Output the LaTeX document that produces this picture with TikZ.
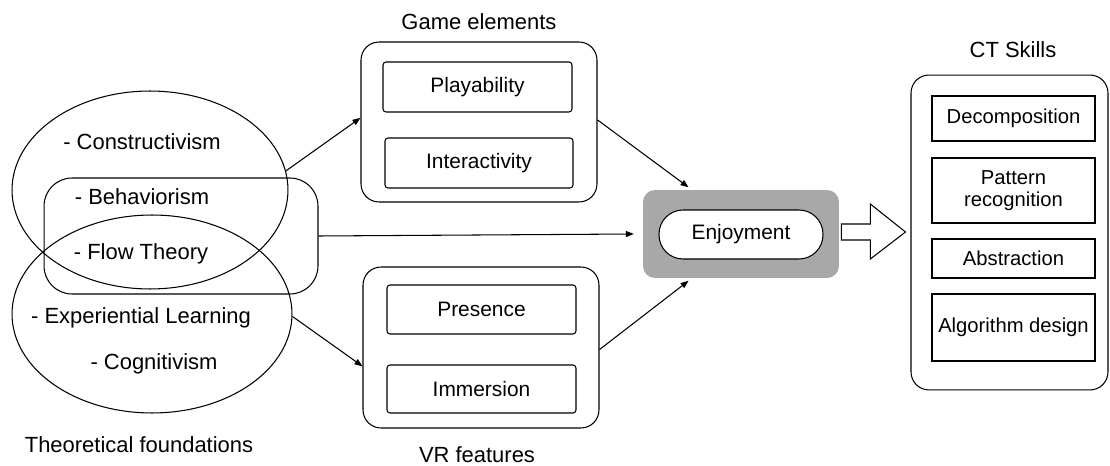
\documentclass[tikz,border=0pt]{standalone}
\usepackage{fontspec}
\setmainfont{Liberation Sans}
\usetikzlibrary{arrows.meta,shapes.geometric,calc}
\definecolor{frame}{RGB}{168,168,168}
\tikzset{
  every node/.style={font=\fontsize{11.9}{14}\selectfont, text=black},
  big/.style={font=\fontsize{12.5}{15}\selectfont},
  line/.style={line width=0.6pt, draw=black},
  group/.style={line, rectangle, rounded corners=0.36cm, inner sep=0pt},
  item/.style={line, rectangle, rounded corners=0.06cm, inner sep=0pt, align=center},
  skill/.style={line, rectangle, inner sep=0pt, align=center, minimum width=3.26cm,
                font=\fontsize{11.5}{13.5}\selectfont},
  theory/.style={line, ellipse, inner sep=0pt},
  link/.style={line, -{Triangle[length=0.16cm,width=0.12cm]}},
  caption/.style={big, inner sep=0pt}
}
\begin{document}
\begin{tikzpicture}[x=0.02cm,y=-0.02cm]
\useasboundingbox (0,0) rectangle (1110,466);

% theoretical foundations
\node[theory, minimum width=5.52cm, minimum height=3.96cm] (ellA) at (150,190) {};
\node[theory, minimum width=5.60cm, minimum height=3.96cm] (ellB) at (152,314) {};
\node[line, rectangle, rounded corners=0.56cm, minimum width=5.48cm, minimum height=2.32cm] (mid) at (181,236) {};
\node[big] (t1) at (142,142) {- Constructivism};
\node[big] (t2) at (142,197) {- Behaviorism};
\node[big] (t3) at (141,254) {- Flow Theory};
\node[big] (t4) at (141,318) {- Experiential Learning};
\node[big] (t5) at (154,364) {- Cognitivism};
\node[caption] (capT) at (139,445) {Theoretical foundations};

% game elements
\node[group, minimum width=4.72cm, minimum height=3.2cm] (game) at (479,122) {};
\node[item, minimum width=3.78cm, minimum height=1.0cm] (play) at (477.5,87) {Playability};
\node[item, minimum width=3.76cm, minimum height=1.0cm] (inter) at (479,163) {Interactivity};
\node[caption] (capG) at (479,22) {Game elements};

% VR features
\node[group, minimum width=4.72cm, minimum height=3.22cm] (vr) at (481,347.5) {};
\node[item, minimum width=3.78cm, minimum height=0.98cm] (pres) at (481.5,309.5) {Presence};
\node[item, minimum width=3.78cm, minimum height=0.96cm] (imm) at (481.5,389) {Immersion};
\node[caption] (capV) at (477,455) {VR features};

% enjoyment
\node[rectangle, fill=frame, rounded corners=0.24cm, minimum width=3.92cm, minimum height=1.76cm, inner sep=0pt] (enjbox) at (741,234) {};
\node[line, rectangle, fill=white, rounded corners=0.48cm, minimum width=3.28cm, minimum height=0.98cm, inner sep=0pt] (enj) at (741,234.5) {Enjoyment};

% CT skills
\node[group, minimum width=3.94cm, minimum height=6.3cm] (ct) at (1009.5,232.5) {};
\node[skill, minimum height=0.9cm] (dec) at (1013.5,118.5) {Decomposition};
\node[skill, minimum height=1.3cm] (pat) at (1013.5,190.5) {Pattern\\[-1pt]recognition};
\node[skill, minimum height=0.78cm] (abs) at (1013.5,258.5) {Abstraction};
\node[skill, minimum height=1.34cm] (alg) at (1013.5,327.5) {Algorithm design};
\node[caption] (capC) at (1013,50) {CT Skills};

% connectors
\draw[link] (ellA.8) -- (game.178);
\draw[link] (ellB.-1) -- (vr.189);
\draw[link] (mid.east) -- ([xshift=-5]enjbox.west);
\draw[link, shorten >=0.08cm] (game.1) -- (enjbox.138);
\draw[link, shorten >=0.08cm] (vr.-1) -- (enjbox.222);

% hollow block arrow towards the skills
\draw[line, fill=white]
  ($(enjbox.east)+(2,-10)$) -- ++(29,0) -- ++(0,-20) -- ($(ct.west)+(-5,-0.5)$)
  -- ($(enjbox.east)+(31,25)$) -- ++(0,-19) -- ++(-29,0) -- cycle;
\end{tikzpicture}
\end{document}
